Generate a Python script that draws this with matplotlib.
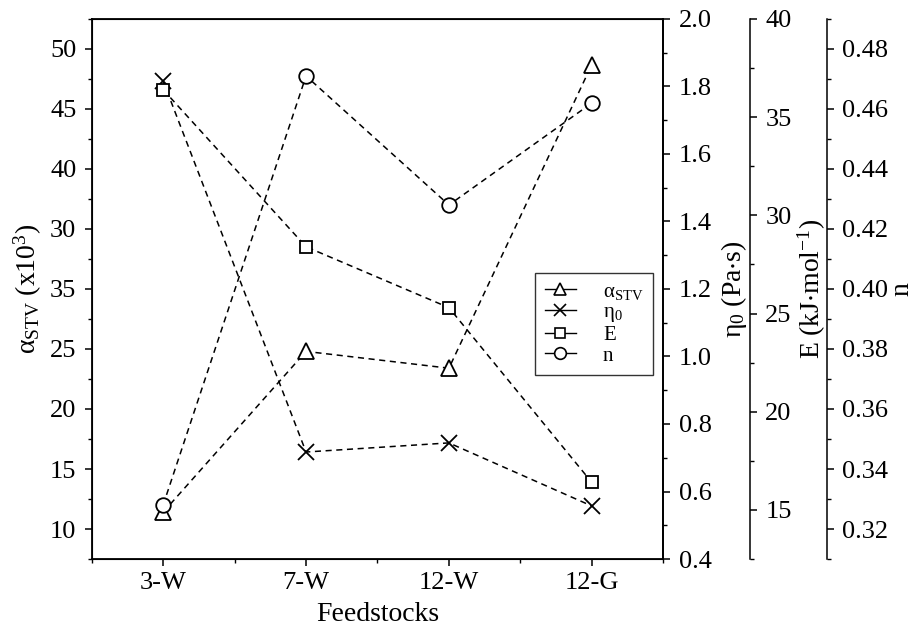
'''
Rheological parameters of the feedstocks on four y axes.
'''

import matplotlib
matplotlib.use('Agg')
import matplotlib.pyplot as plt
from matplotlib.lines import Line2D
from matplotlib.ticker import MultipleLocator, FixedLocator, FixedFormatter

plt.rcParams['font.family'] = ['Liberation Serif', 'DejaVu Serif']
plt.rcParams['mathtext.fontset'] = 'custom'
plt.rcParams['mathtext.rm'] = 'Liberation Serif'
plt.rcParams['mathtext.it'] = 'Liberation Serif:italic'

feedstocks = ['3-W', '7-W', '12-W', '12-G']
alpha_stv = [11.4, 24.8, 23.4, 48.7]
eta0 = [1.816, 0.717, 0.744, 0.557]
energy = [36.4, 28.4, 25.3, 16.4]
n_index = [0.328, 0.471, 0.428, 0.462]

# tick labels as printed on the left axis (30 and 35 swapped in the source)
alpha_ticks = [10, 15, 20, 25, 30, 35, 40, 45, 50]
alpha_ticklabels = ['10', '15', '20', '25', '35', '30', '40', '45', '50']

series_labels = [r'$\mathregular{\alpha_{STV}}$', r'$\mathregular{\eta_0}$', 'E', 'n']
markers = ['^', 'x', 's', 'o']
msizes = [11, 11, 9, 10.5]

x = list(range(len(feedstocks)))
fs_tick = 19
fs_label = 20
line_kw = dict(color='k', ls='--', lw=1.1, mfc='white', mec='k', mew=1.3,
               dashes=(4, 3))

fig = plt.figure(figsize=(9.17, 6.33), dpi=100)
ax = fig.add_axes([0.100, 0.1169, 0.6233, 0.8531])
ax_eta = ax.twinx()
ax_e = ax.twinx()
ax_n = ax.twinx()

ax_e.spines['right'].set_position(('axes', 1.1517))
ax_n.spines['right'].set_position(('axes', 1.2859))
for a in (ax_e, ax_n):
    for s in ('left', 'top', 'bottom'):
        a.spines[s].set_visible(False)

for a, vals, m, ms in zip((ax, ax_eta, ax_e, ax_n),
                          (alpha_stv, eta0, energy, n_index), markers, msizes):
    a.plot(x, vals, marker=m, ms=ms, **line_kw)

ax.set_xlim(-0.5, 3.5)
ax.set_xticks(x)
ax.set_xticklabels(feedstocks)
ax.xaxis.set_minor_locator(FixedLocator([-0.5, 0.5, 1.5, 2.5, 3.5]))

ax.set_ylim(7.5, 52.5)
ax.yaxis.set_major_locator(FixedLocator(alpha_ticks))
ax.yaxis.set_major_formatter(FixedFormatter(alpha_ticklabels))
ax.yaxis.set_minor_locator(MultipleLocator(2.5))

ax_eta.set_ylim(0.4, 2.0)
ax_eta.yaxis.set_major_locator(MultipleLocator(0.2))
ax_eta.yaxis.set_minor_locator(MultipleLocator(0.1))
ax_eta.yaxis.set_major_formatter(plt.FuncFormatter(lambda v, p: f'{v:.1f}'))

ax_e.set_ylim(12.5, 40)
ax_e.yaxis.set_major_locator(MultipleLocator(5))
ax_e.yaxis.set_minor_locator(MultipleLocator(2.5))

ax_n.set_ylim(0.31, 0.49)
ax_n.yaxis.set_major_locator(MultipleLocator(0.02))
ax_n.yaxis.set_minor_locator(MultipleLocator(0.01))
ax_n.yaxis.set_major_formatter(plt.FuncFormatter(lambda v, p: f'{v:.2f}'))

for a in (ax, ax_eta, ax_e, ax_n):
    a.tick_params(which='major', direction='out', length=5, width=1.1,
                  labelsize=fs_tick, pad=6)
    a.tick_params(which='minor', direction='out', length=3, width=1.0)
ax.tick_params(axis='x', pad=4)
for s in ax.spines.values():
    s.set_linewidth(1.3)
ax_eta.spines['right'].set_linewidth(1.3)
ax_e.spines['right'].set_linewidth(1.1)
ax_n.spines['right'].set_linewidth(1.1)

ax.set_xlabel('Feedstocks', fontsize=fs_label, labelpad=6)
ax.set_ylabel(r'$\mathregular{\alpha_{STV}\ (x10^3)}$', fontsize=fs_label, labelpad=4)
ax_eta.set_ylabel(r'$\mathregular{\eta_0\ (Pa{\cdot}s)}$', fontsize=fs_label, labelpad=5)
ax_e.set_ylabel(r'$\mathregular{E\ (kJ{\cdot}mol^{-1})}$', fontsize=fs_label, labelpad=3)
ax_n.set_ylabel('n', fontsize=fs_label, labelpad=1)

# legend keys: short solid line through a hollow marker
handles = [Line2D([], [], color='k', lw=1.0, marker=m, ms=ms * 0.8, mfc='white',
                  mec='k', mew=1.2)
           for m, ms in zip(markers, msizes)]
leg = ax.legend(handles=handles, labels=series_labels, loc='upper left',
                bbox_to_anchor=(0.776, 0.53), fontsize=15, frameon=True,
                fancybox=False, edgecolor='k', handlelength=1.5,
                handletextpad=1.3, borderpad=0.45, labelspacing=0.05,
                borderaxespad=0, markerfirst=True)
leg.get_frame().set_linewidth(1.0)

fig.savefig('out.png', dpi=100)
